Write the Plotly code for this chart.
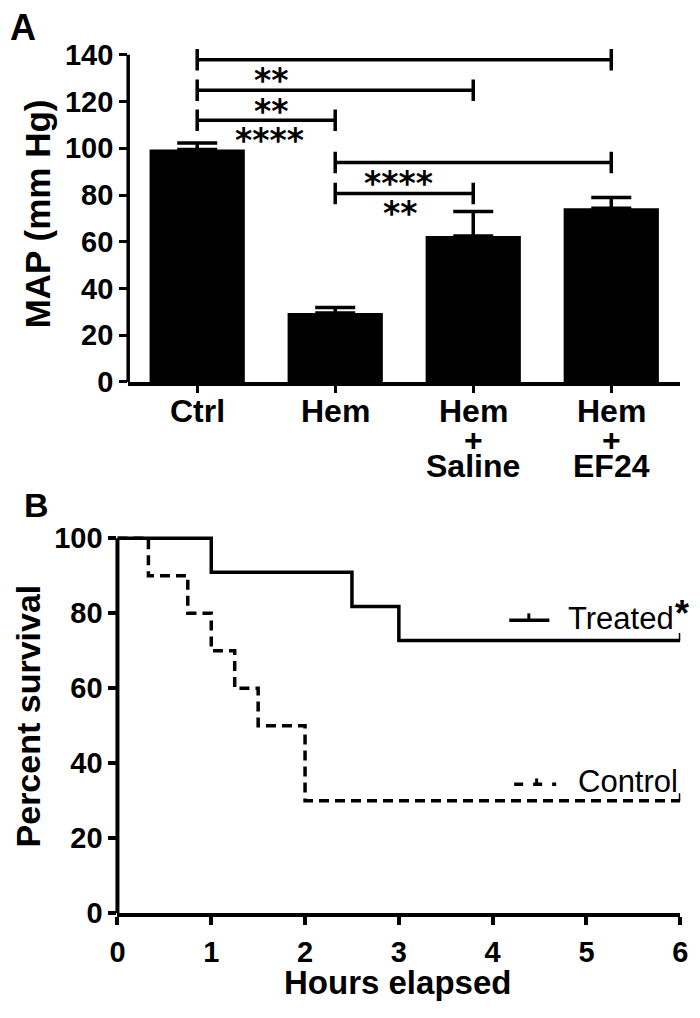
import plotly.graph_objects as go

W, H = 700, 1018

# ---------------- Panel A data ----------------
categories = ["Ctrl", "Hem", "Hem + Saline", "Hem + EF24"]
category_lines = [["Ctrl"], ["Hem"], ["Hem", "+", "Saline"], ["Hem", "+", "EF24"]]
map_mean = [99.5, 29.5, 62.5, 74.4]
map_sem = [2.8, 2.4, 10.5, 4.6]
yA_ticks = [0, 20, 40, 60, 80, 100, 120, 140]

bracket_from = [0, 0, 0, 1, 1]
bracket_to = [3, 2, 1, 3, 2]
bracket_level = [137.9, 124.9, 112.0, 93.9, 80.7]
bracket_stars = ["**", "**", "****", "****", "**"]
stars_x = [0.54, 0.54, 0.527, 1.456, 1.475]
stars_y = [132.1, 118.7, 106.3, 88.0, 75.2]

# ---------------- Panel B data ----------------
treated_hours = [0, 1, 2.5, 3, 6]
treated_survival = [100, 90.9, 81.8, 72.7, 72.7]
control_hours = [0, 0.33, 0.75, 1.0, 1.25, 1.5, 2.0, 6]
control_survival = [100, 90, 80, 70, 60, 50, 30, 30]
xB_ticks = [0, 1, 2, 3, 4, 5, 6]
yB_ticks = [0, 20, 40, 60, 80, 100]


def px(x):
    return x / W


def py(y):
    return 1 - y / H


FONT = "Liberation Sans, Arial, Helvetica, sans-serif"
STAR_FONT = "DejaVu Sans, Liberation Sans, sans-serif"

# layout geometry (pixels)
A_left, A_right, A_bottom, A_top140 = 123, 688, 383, 48
A_ppu = (A_bottom - A_top140) / 140.0
A_ymax = 146
A_top = A_bottom - A_ymax * A_ppu

B_left, B_right, B_bottom, B_top100 = 112, 688, 927, 543
B_ppu = (B_bottom - B_top100) / 100.0
B_ymax = 102
B_top = B_bottom - B_ymax * B_ppu

fig = go.Figure()

# bars
fig.add_trace(go.Bar(
    x=list(range(len(categories))), y=map_mean, width=0.69,
    marker=dict(color="black", line=dict(width=0)),
    error_y=dict(type="data", array=map_sem, arrayminus=[0] * len(map_sem),
                 symmetric=False, color="black", thickness=3.5, width=20),
    xaxis="x", yaxis="y", showlegend=False, hoverinfo="skip"))

# significance brackets
cap = 4.6
for a, b, lvl in zip(bracket_from, bracket_to, bracket_level):
    fig.add_trace(go.Scatter(
        x=[a, a, None, a, b, None, b, b],
        y=[lvl - cap, lvl + cap, None, lvl, lvl, None, lvl - cap, lvl + cap],
        mode="lines", line=dict(color="black", width=3.5),
        xaxis="x", yaxis="y", showlegend=False, hoverinfo="skip"))

# survival curves
n_t = len(treated_hours)
fig.add_trace(go.Scatter(
    x=treated_hours, y=treated_survival, mode="lines",
    line=dict(shape="hv", color="black", width=3.5),
    error_y=dict(type="data", array=[0] * (n_t - 1) + [2], arrayminus=[0] * n_t,
                 symmetric=False, color="black", thickness=3, width=0),
    cliponaxis=False, xaxis="x2", yaxis="y2", showlegend=False, hoverinfo="skip"))
n_c = len(control_hours)
fig.add_trace(go.Scatter(
    x=control_hours, y=control_survival, mode="lines",
    line=dict(shape="hv", color="black", width=3.5, dash="10px,6px"),
    error_y=dict(type="data", array=[0] * (n_c - 1) + [2], arrayminus=[0] * n_c,
                 symmetric=False, color="black", thickness=3, width=0),
    cliponaxis=False, xaxis="x2", yaxis="y2", showlegend=False, hoverinfo="skip"))

tickfont = dict(family=FONT, size=29, color="black", weight="bold")

fig.update_layout(
    width=W, height=H, margin=dict(l=0, r=0, t=0, b=0),
    paper_bgcolor="white", plot_bgcolor="white", showlegend=False,
    xaxis=dict(domain=[px(A_left), px(A_right)], range=[-0.5, 3.5], anchor="y",
               showline=True, linewidth=3.5, linecolor="black",
               ticks="outside", tickvals=list(range(len(categories))), ticklen=7,
               tickwidth=3, tickcolor="black", showticklabels=False,
               showgrid=False, zeroline=False),
    yaxis=dict(domain=[py(A_bottom), py(A_top)], range=[0, A_ymax], anchor="x",
               showline=False, ticks="outside", tickvals=yA_ticks, ticklen=8,
               tickwidth=3, tickcolor="black", tickfont=tickfont,
               showgrid=False, zeroline=False),
    xaxis2=dict(domain=[px(B_left), px(B_right)], range=[0, 6], anchor="y2",
                showline=True, linewidth=4, linecolor="black",
                ticks="outside", tickvals=xB_ticks, ticklen=8, tickwidth=3.5,
                tickcolor="black", tickfont=tickfont, ticklabelstandoff=2,
                showgrid=False, zeroline=False),
    yaxis2=dict(domain=[py(B_bottom), py(B_top)], range=[0, B_ymax], anchor="x2",
                showline=False, ticks="outside", tickvals=yB_ticks, ticklen=8,
                tickwidth=3.5, tickcolor="black", tickfont=tickfont,
                showgrid=False, zeroline=False),
)

shapes = [
    # y axis lines ending at the top tick
    dict(type="line", xref="paper", yref="y", x0=px(A_left), x1=px(A_left),
         y0=0, y1=140, line=dict(color="black", width=3.5)),
    dict(type="line", xref="paper", yref="y2", x0=px(B_left), x1=px(B_left),
         y0=0, y1=100, line=dict(color="black", width=4)),
    # legend samples
    dict(type="line", xref="paper", yref="paper", x0=px(513), x1=px(554),
         y0=py(627), y1=py(627), line=dict(color="black", width=3.5)),
    dict(type="line", xref="paper", yref="paper", x0=px(533), x1=px(533),
         y0=py(627), y1=py(620), line=dict(color="black", width=3)),
    dict(type="line", xref="paper", yref="paper", x0=px(518), x1=px(561),
         y0=py(795), y1=py(795), line=dict(color="black", width=3.5, dash="9px,10px")),
    dict(type="line", xref="paper", yref="paper", x0=px(541), x1=px(541),
         y0=py(795), y1=py(789), line=dict(color="black", width=3)),
]

ann = []
# star labels
for sx, sy, s in zip(stars_x, stars_y, bracket_stars):
    ann.append(dict(x=sx, y=sy, xref="x", yref="y", text=s, showarrow=False,
                    xanchor="center", yanchor="middle", yshift=-7,
                    font=dict(family=STAR_FONT, size=33, color="black", weight="bold")))
# category labels
line_y = [412.5, 442, 469]
for i, lines in enumerate(category_lines):
    for j, t in enumerate(lines):
        ann.append(dict(x=i, y=py(line_y[j]), xref="x", yref="paper", text=t,
                        showarrow=False, xanchor="center", yanchor="middle",
                        font=dict(family=FONT, size=32, color="black", weight="bold")))
# axis titles & panel letters
ann += [
    dict(x=px(30), y=py(211), xref="paper", yref="paper", text="MAP (mm Hg)",
         textangle=-90, showarrow=False, xanchor="center", yanchor="middle",
         font=dict(family=FONT, size=35, color="black", weight="bold")),
    dict(x=px(20), y=py(725), xref="paper", yref="paper", text="Percent survival",
         textangle=-90, showarrow=False, xanchor="center", yanchor="middle",
         font=dict(family=FONT, size=34, color="black", weight="bold")),
    dict(x=px(399), y=py(998), xref="paper", yref="paper", text="Hours elapsed",
         showarrow=False, xanchor="center", yanchor="middle",
         font=dict(family=FONT, size=33, color="black", weight="bold")),
    dict(x=px(0), y=py(20), xref="paper", yref="paper", text="A",
         showarrow=False, xanchor="left", yanchor="middle",
         font=dict(family=FONT, size=36, color="black", weight="bold")),
    dict(x=px(14), y=py(509), xref="paper", yref="paper", text="B",
         showarrow=False, xanchor="left", yanchor="middle",
         font=dict(family=FONT, size=34, color="black", weight="bold")),
    # legend texts
    dict(x=px(571), y=py(625), xref="paper", yref="paper", text="Treated",
         showarrow=False, xanchor="left", yanchor="middle",
         font=dict(family=FONT, size=31, color="black")),
    dict(x=px(690), y=py(620), xref="paper", yref="paper", text="*",
         showarrow=False, xanchor="center", yanchor="middle",
         font=dict(family=FONT, size=36, color="black", weight="bold")),
    dict(x=px(581), y=py(792), xref="paper", yref="paper", text="Control",
         showarrow=False, xanchor="left", yanchor="middle",
         font=dict(family=FONT, size=31, color="black")),
]

fig.update_layout(shapes=shapes, annotations=ann)
fig.write_html("out.html", config={"displayModeBar": False},
               post_script="document.body.style.margin='0';document.body.style.overflow='hidden';")
